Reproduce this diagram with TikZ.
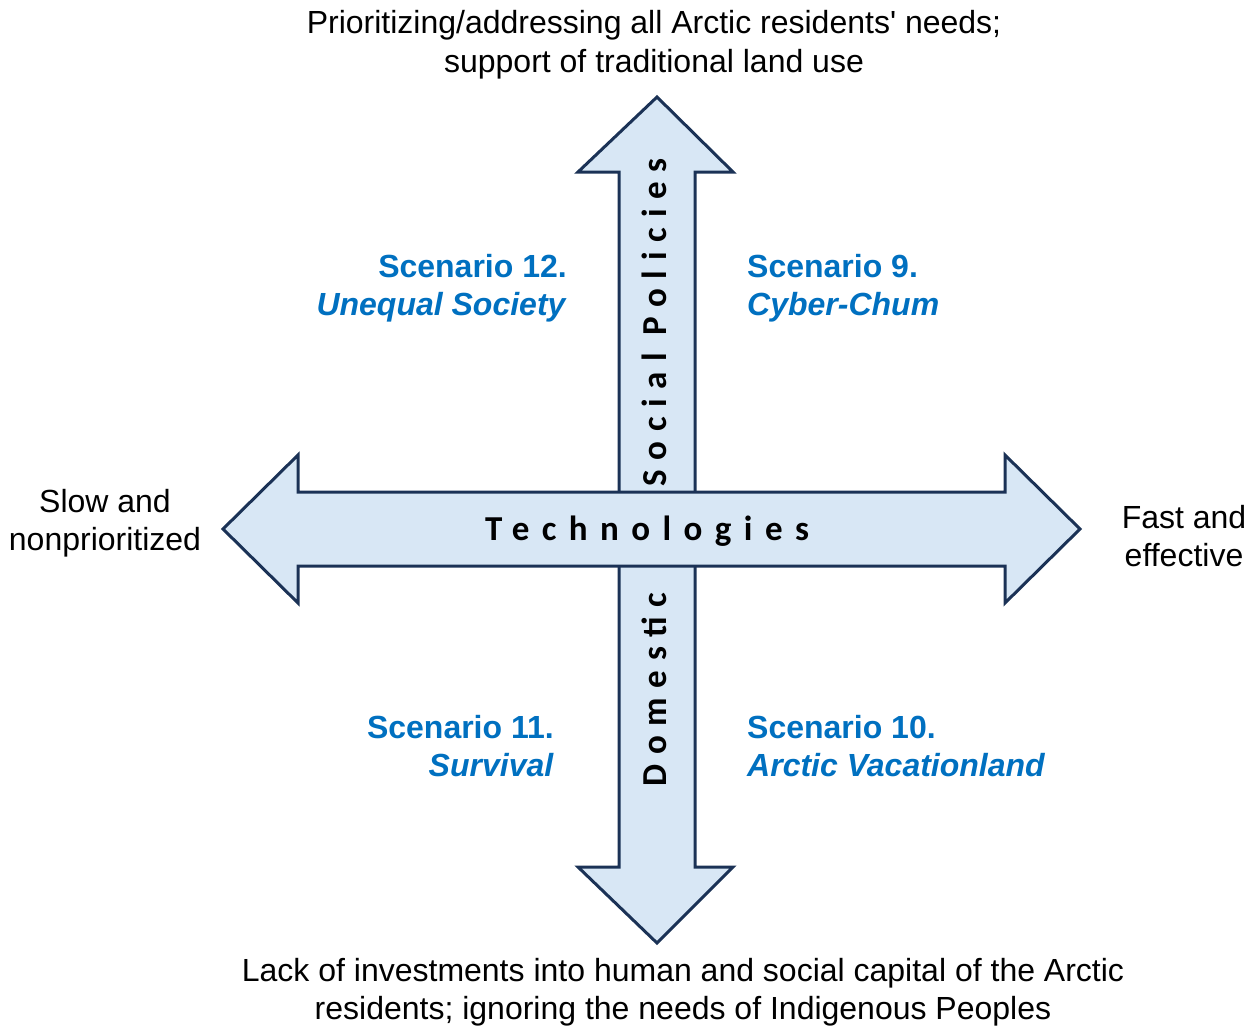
\documentclass[tikz,border=0pt]{standalone}
\usepackage{fontspec}
\setmainfont{Liberation Sans}
\newfontfamily\axisfont[LetterSpace=28]{Carlito}
\newfontfamily\techfont[LetterSpace=35.5]{Carlito}
\definecolor{arrowfill}{HTML}{D8E7F5}
\definecolor{arrowline}{HTML}{1B3256}
\definecolor{scenblue}{HTML}{0070C0}
\tikzset{
  arrowshape/.style={fill=arrowfill, draw=arrowline, line width=3pt, line join=miter},
  plaintext/.style={font=\fontsize{32}{38.5}\selectfont, align=center, text=black, inner sep=0pt},
  scen/.style={font=\fontsize{32}{38}\selectfont\bfseries, text=scenblue, inner sep=0pt},
  axislabel/.style={font=\axisfont\bfseries\fontsize{35}{38}\selectfont, text=black, inner sep=0pt},
  techlabel/.style={font=\techfont\bfseries\fontsize{35}{38}\selectfont, text=black, inner sep=0pt}
}
\begin{document}
\begin{tikzpicture}[x=1pt,y=-1pt]
\useasboundingbox (0,0) rectangle (1251,1026);
% vertical double arrow
\draw[arrowshape] (657,97) -- (733,172) -- (695,172) -- (695,867) -- (733,867) -- (657,943)
  -- (578,867) -- (619,867) -- (619,172) -- (578,172) -- cycle;
% horizontal double arrow
\draw[arrowshape] (223,529) -- (298,455) -- (298,492) -- (1005,492) -- (1005,455) -- (1080,529)
  -- (1005,603) -- (1005,566) -- (298,566) -- (298,603) -- cycle;
% axis labels
\node[axislabel, rotate=90, anchor=base west] (social) at (666,487) {Social Policies};
\node[axislabel, rotate=90, anchor=base west] (domestic) at (666,787) {Domestic};
\node[techlabel, anchor=base west] (tech) at (485,540) {Technologies};
% pole texts
\node[plaintext] (top) at (654,44.5) {Prioritizing/addressing all Arctic residents\textquotesingle{} needs;\\support of traditional land use};
\node[plaintext] (bottom) at (683,992) {Lack of investments into human and social capital of the Arctic\\residents; ignoring the needs of Indigenous Peoples};
\node[plaintext] (left) at (105,523) {Slow and\\nonprioritized};
\node[plaintext] (right) at (1184,536) {Fast and\\effective};
% scenarios
\node[scen, align=right, anchor=east] (s12) at (567,288) {Scenario 12.\\\textit{Unequal Society}};
\node[scen, align=left, anchor=west] (s9) at (747,288) {Scenario 9.\\\textit{Cyber-Chum}};
\node[scen, align=right, anchor=east] (s11) at (554,746) {Scenario 11.\\\textit{Survival}};
\node[scen, align=left, anchor=west] (s10) at (747,746) {Scenario 10.\\\textit{Arctic Vacationland}};
\end{tikzpicture}
\end{document}
